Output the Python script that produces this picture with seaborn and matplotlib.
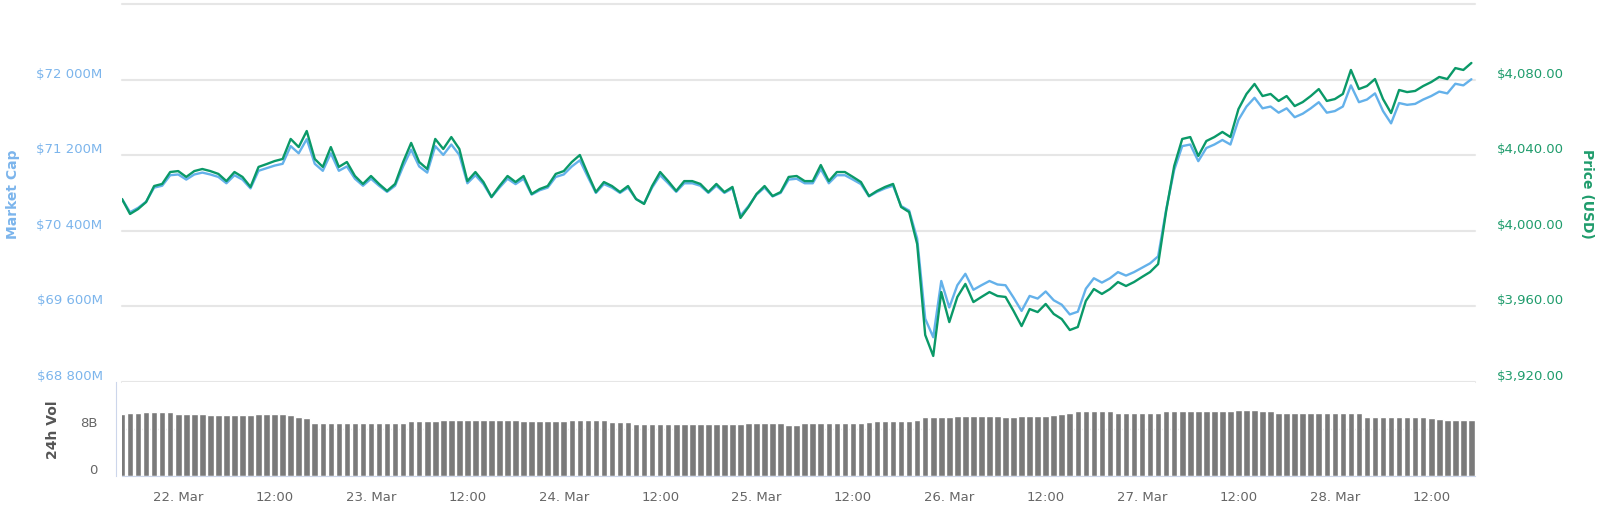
import pandas as pd
import matplotlib
matplotlib.use('Agg')
import matplotlib.pyplot as plt
import matplotlib.dates as mdates
import matplotlib.ticker as ticker
from matplotlib.transforms import ScaledTranslation
import seaborn as sns

# Style Setting
sns.set_style('white')
plt.rcParams.update({'font.family': ['DejaVu Sans'], 'font.size': 9.5})

### Data (hourly) ###
start = '2019-03-21 17:00'

price = [
    4016.8, 4008.9, 4011.5, 4015.2, 4023.7, 4024.8, 4031.1, 4031.6, 4028.5, 4031.6,
    4032.7, 4031.6, 4030.1, 4026.3, 4031.1, 4028.5, 4023.2, 4033.8, 4035.3, 4036.9,
    4038.0, 4048.6, 4044.3, 4052.8, 4038.0, 4033.8, 4044.3, 4033.8, 4036.4, 4029.0,
    4024.8, 4029.0, 4024.8, 4021.1, 4024.8, 4036.4, 4046.5, 4036.4, 4032.7, 4048.6,
    4043.3, 4049.6, 4043.3, 4026.3, 4031.1, 4025.8, 4017.9, 4023.7, 4029.0, 4025.8,
    4029.0, 4019.5, 4022.1, 4023.7, 4030.1, 4031.6, 4036.4, 4040.1, 4030.1, 4020.5,
    4025.8, 4023.7, 4020.5, 4023.7, 4016.8, 4014.2, 4023.7, 4031.1, 4026.3, 4021.1,
    4026.3, 4026.3, 4024.8, 4020.5, 4024.8, 4020.5, 4023.2, 4006.8, 4012.6, 4019.5,
    4023.7, 4018.4, 4020.5, 4028.5, 4029.0, 4026.3, 4026.3, 4034.8, 4026.3, 4031.1,
    4031.1, 4028.5, 4025.8, 4018.4, 4021.1, 4023.2, 4024.8, 4012.6, 4009.9, 3993.0,
    3944.9, 3933.8, 3967.6, 3951.7, 3965.0, 3971.9, 3962.3, 3965.0, 3967.6, 3965.5,
    3965.0, 3957.6, 3949.6, 3958.6, 3957.0, 3961.3, 3956.0, 3953.3, 3947.5, 3949.1,
    3962.9, 3969.2, 3966.6, 3969.2, 3972.9, 3970.8, 3972.9, 3975.6, 3978.2, 3982.4,
    4010.5, 4034.3, 4048.6, 4049.6, 4039.6, 4047.5, 4049.6, 4052.3, 4049.6, 4064.4,
    4072.4, 4077.7, 4071.3, 4072.4, 4068.7, 4071.3, 4066.0, 4068.1, 4071.3, 4075.0,
    4068.7, 4069.7, 4072.4, 4085.1, 4075.0, 4076.6, 4080.3, 4069.7, 4062.3, 4074.5,
    4073.4, 4074.0, 4076.6, 4078.7, 4081.4, 4080.3, 4086.1, 4085.1, 4088.8,
]

market_cap = [
    70736, 70597, 70643, 70708, 70857, 70877, 70988, 70996, 70942, 70996,
    71016, 70996, 70970, 70903, 70988, 70942, 70849, 71035, 71062, 71090,
    71109, 71296, 71220, 71370, 71109, 71035, 71220, 71035, 71081, 70951,
    70877, 70951, 70877, 70812, 70877, 71081, 71259, 71081, 71016, 71296,
    71203, 71313, 71203, 70903, 70988, 70894, 70755, 70857, 70951, 70894,
    70951, 70783, 70829, 70857, 70970, 70996, 71081, 71146, 70970, 70801,
    70894, 70857, 70801, 70857, 70736, 70690, 70857, 70988, 70903, 70812,
    70903, 70903, 70877, 70801, 70877, 70801, 70849, 70560, 70662, 70783,
    70857, 70764, 70801, 70942, 70951, 70903, 70903, 71053, 70903, 70988,
    70988, 70942, 70894, 70764, 70812, 70849, 70877, 70662, 70614, 70317,
    69470, 69274, 69869, 69589, 69824, 69945, 69776, 69824, 69869, 69832,
    69824, 69693, 69552, 69711, 69683, 69758, 69665, 69618, 69515, 69544,
    69787, 69898, 69852, 69898, 69963, 69926, 69963, 70010, 70056, 70130,
    70625, 71044, 71296, 71313, 71137, 71276, 71313, 71361, 71313, 71574,
    71715, 71808, 71696, 71715, 71650, 71696, 71602, 71639, 71696, 71761,
    71650, 71667, 71715, 71939, 71761, 71789, 71854, 71667, 71537, 71752,
    71733, 71743, 71789, 71826, 71873, 71854, 71956, 71939, 72004,
]

# 24h volume in billions USD
volume = [
    10.5, 10.7, 10.8, 10.9, 10.9, 10.9, 10.9, 10.6, 10.6, 10.6,
    10.5, 10.4, 10.4, 10.4, 10.4, 10.4, 10.4, 10.6, 10.6, 10.6,
    10.6, 10.3, 10.1, 9.8, 9.1, 9.1, 9.1, 9.1, 9.1, 9.1,
    9.1, 9.1, 9.1, 9.1, 9.1, 9.1, 9.3, 9.3, 9.3, 9.3,
    9.5, 9.5, 9.5, 9.6, 9.6, 9.6, 9.6, 9.6, 9.6, 9.6,
    9.4, 9.4, 9.4, 9.4, 9.4, 9.4, 9.5, 9.5, 9.5, 9.5,
    9.5, 9.2, 9.2, 9.2, 8.9, 8.9, 8.9, 8.9, 8.9, 8.9,
    8.9, 8.9, 8.9, 8.9, 8.9, 8.9, 8.9, 8.9, 9.0, 9.1,
    9.1, 9.1, 9.1, 8.7, 8.7, 9.1, 9.1, 9.1, 9.1, 9.1,
    9.1, 9.1, 9.1, 9.2, 9.3, 9.3, 9.3, 9.4, 9.4, 9.6,
    10.0, 10.0, 10.0, 10.0, 10.2, 10.2, 10.2, 10.2, 10.2, 10.2,
    10.0, 10.0, 10.2, 10.2, 10.2, 10.2, 10.4, 10.5, 10.7, 11.0,
    11.1, 11.1, 11.1, 11.0, 10.7, 10.7, 10.7, 10.7, 10.7, 10.7,
    11.0, 11.0, 11.1, 11.1, 11.1, 11.1, 11.1, 11.1, 11.1, 11.2,
    11.3, 11.3, 11.1, 11.1, 10.7, 10.7, 10.7, 10.7, 10.7, 10.7,
    10.7, 10.7, 10.7, 10.7, 10.7, 10.1, 10.1, 10.1, 10.1, 10.1,
    10.1, 10.1, 10.1, 9.8, 9.75, 9.6, 9.5, 9.5, 9.5,
]

mcap_ticks = [68800, 69600, 70400, 71200, 72000, 72800]
price_ticks = [3920, 3960, 4000, 4040, 4080, 4120]
vol_ticks = [0, 8]
vol_tick_labels = ['0', '8B']

### Colors ###
blue = '#64b1ea'
blue_text = '#7cb5ec'
green = '#0a9968'
green_text = '#1f9c6c'
grid_color = '#e6e6e6'
axis_color = '#ccd6eb'
grey_text = '#666666'

times = pd.date_range(start, periods=len(price), freq='h')
df = pd.DataFrame({'time': times, 'market_cap': market_cap, 'price': price, 'volume': volume})

fig = plt.figure(figsize=(16, 5.1), dpi=100)
ax = fig.add_axes([0.07625, 0.249, 0.845625, 0.7412])
ax2 = ax.twinx()
axv = fig.add_axes([0.07625, 0.0647, 0.845625, 0.1843], sharex=ax)

# spines first (set_position resets ticks)
for a in (ax, ax2):
    for s in a.spines.values():
        s.set_visible(False)
axv.spines['top'].set_visible(False)
axv.spines['right'].set_visible(False)
axv.spines['left'].set_position(('outward', 4))
axv.spines['left'].set_color(axis_color)
axv.spines['bottom'].set_color(axis_color)

# lines
sns.lineplot(data=df, x='time', y='market_cap', ax=ax, color=blue, linewidth=1.7)
sns.lineplot(data=df, x='time', y='price', ax=ax2, color=green, linewidth=1.7)

# volume bars
axv.bar(df['time'], df['volume'], width=0.82 / 24, color='#7a7a7a', zorder=2)

# axis ranges
ax.set_ylim(mcap_ticks[0], mcap_ticks[-1])
ax2.set_ylim(price_ticks[0], price_ticks[-1])
axv.set_ylim(0, 16)
axv.set_xlim(times[0], times[-1] + pd.Timedelta(minutes=27))

# main y axes
ax.yaxis.set_major_locator(ticker.FixedLocator(mcap_ticks))
ax.yaxis.set_major_formatter(ticker.FuncFormatter(
    lambda v, p: '' if v >= mcap_ticks[-1] else f'${v:,.0f}M'.replace(',', ' ')))
ax2.yaxis.set_major_locator(ticker.FixedLocator(price_ticks))
ax2.yaxis.set_major_formatter(ticker.FuncFormatter(
    lambda v, p: '' if v >= price_ticks[-1] else f'${v:,.2f}'))
ax.grid(axis='y', color=grid_color, linewidth=1.5)
ax.grid(axis='x', visible=False)
ax2.grid(False)
for line in ax.get_ygridlines():
    line.set_clip_on(False)

ax.tick_params(axis='y', length=0, pad=14, labelcolor=blue_text, labelsize=9.5)
ax2.tick_params(axis='y', length=0, pad=16, labelcolor=green_text, labelsize=9.5)
ax.tick_params(axis='x', bottom=False, labelbottom=False)
ax.set_xlabel('')

ax.set_ylabel('Market Cap', color=blue_text, fontweight='bold', fontsize=10)
ax.yaxis.set_label_coords(-0.0754, 0.5)
ax2.set_ylabel('Price (USD)', color=green_text, fontweight='bold', fontsize=10,
               rotation=270, va='center')
ax2.yaxis.set_label_coords(1.0828, 0.5)

# volume axes
axv.set_axisbelow(True)
axv.yaxis.set_major_locator(ticker.FixedLocator(vol_ticks))
axv.yaxis.set_major_formatter(ticker.FixedFormatter(vol_tick_labels))
axv.grid(axis='y', color=grid_color, linewidth=1.0)
axv.grid(axis='x', visible=False)
axv.tick_params(axis='y', length=0, pad=13.5, labelcolor=grey_text, labelsize=9.5)


def date_label(v, pos):
    d = mdates.num2date(v)
    return d.strftime('%H:%M') if d.hour == 12 else d.strftime('%d. %b')


axv.xaxis.set_major_locator(mdates.HourLocator(byhour=[0, 12]))
axv.xaxis.set_major_formatter(ticker.FuncFormatter(date_label))
axv.tick_params(axis='x', length=7, width=1, color=axis_color, labelcolor=grey_text,
                labelsize=9.5, pad=3)
axv.set_xlabel('')
axv.set_ylabel('24h Vol', color='#555555', fontweight='bold', fontsize=10)
axv.yaxis.set_label_coords(-0.0458, 0.5)

# lift y tick labels a little above their grid lines
offset = ScaledTranslation(0, 0.08, fig.dpi_scale_trans)
for a in (ax, ax2, axv):
    for lbl in a.yaxis.get_majorticklabels():
        lbl.set_transform(lbl.get_transform() + offset)

fig.savefig('out.png', dpi=100)
